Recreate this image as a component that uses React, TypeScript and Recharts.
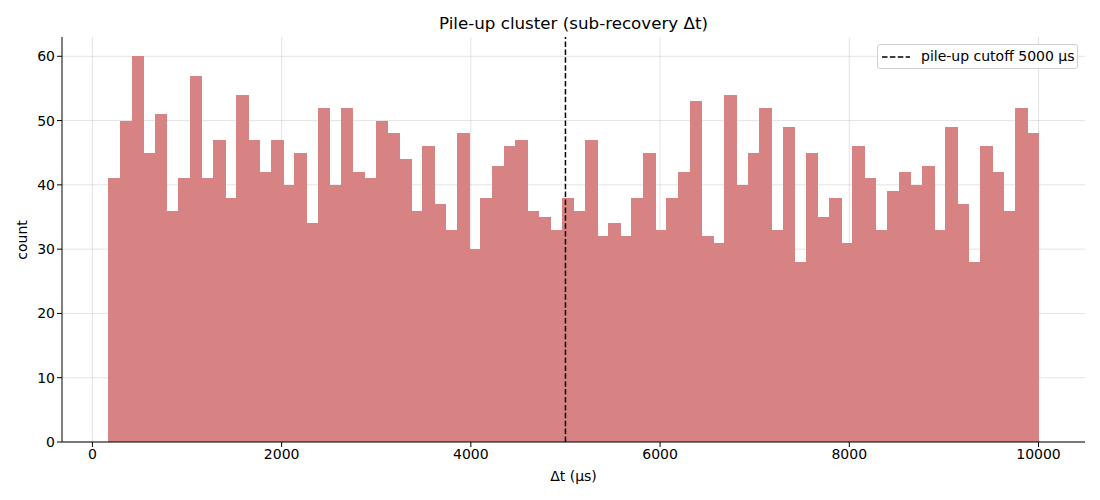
import React from 'react';
import { ComposedChart, Bar, XAxis, YAxis, CartesianGrid, ReferenceLine } from 'recharts';

const counts = [
  41, 50, 60, 45, 51, 36, 41, 57, 41, 47,
  38, 54, 47, 42, 47, 40, 45, 34, 52, 40,
  52, 42, 41, 50, 48, 44, 36, 46, 37, 33,
  48, 30, 38, 43, 46, 47, 36, 35, 33, 38,
  36, 47, 32, 34, 32, 38, 45, 33, 38, 42,
  53, 32, 31, 54, 40, 45, 52, 33, 49, 28,
  45, 35, 38, 31, 46, 41, 33, 39, 42, 40,
  43, 33, 49, 37, 28, 46, 42, 36, 52, 48,
];
const BIN_MIN = 172;
const BIN_MAX = 10000;
const BIN_WIDTH = (BIN_MAX - BIN_MIN) / counts.length;
const xTicks = [0, 2000, 4000, 6000, 8000, 10000];
const yTicks = [0, 10, 20, 30, 40, 50, 60];
const CUTOFF = 5000;
const TITLE = 'Pile-up cluster (sub-recovery Δt)';
const X_LABEL = 'Δt (μs)';
const Y_LABEL = 'count';
const LEGEND_LABEL = 'pile-up cutoff 5000 μs';

const data = counts.map((c, i) => ({ x: BIN_MIN + (i + 0.5) * BIN_WIDTH, count: c }));

const FONT = '"DejaVu Sans", sans-serif';
const BAR_COLOR = '#d88383';

const HistBar = (props: any) => {
  const { x, y, width, height, fill } = props;
  if (!height || height <= 0) return null;
  return <rect x={x - 0.3} y={y} width={width + 0.6} height={height} fill={fill} shapeRendering="crispEdges" />;
};

const LegendBox = () => (
  <div
    style={{
      position: 'absolute',
      left: 877,
      top: 44,
      width: 199,
      height: 23,
      border: '1px solid #d0d0d0',
      borderRadius: 3,
      background: 'rgba(255,255,255,0.8)',
      fontFamily: FONT,
      fontSize: 14,
      color: '#000',
    }}
  >
    <svg width={30} height={10} style={{ position: 'absolute', left: 4, top: 7 }}>
      <line x1={0} y1={5} x2={28} y2={5} stroke="#000" strokeWidth={1.5} strokeDasharray="5.5 2.4" />
    </svg>
    <span style={{ position: 'absolute', left: 43, top: 3, whiteSpace: 'nowrap' }}>{LEGEND_LABEL}</span>
  </div>
);

export default function App() {
  return (
    <div style={{ position: 'absolute', left: 0, top: 0, width: 1100, height: 500, background: '#fff' }}>
      <ComposedChart
        width={1100}
        height={500}
        data={data}
        margin={{ top: 37, right: 15, bottom: 0, left: 0 }}
        barCategoryGap={0}
        barGap={0}
      >
        <XAxis
          dataKey="x"
          type="number"
          domain={[-321.5, 10491.5]}
          ticks={xTicks}
          allowDataOverflow
          height={58}
          tickSize={5}
          tick={{ fontFamily: FONT, fontSize: 14, fill: '#000' }}
          stroke="#000"
          tickLine={{ stroke: '#000' }}
          axisLine={{ stroke: '#000' }}
        />
        <YAxis
          type="number"
          domain={[0, 63]}
          ticks={yTicks}
          allowDataOverflow
          width={62}
          tickSize={5}
          tick={{ fontFamily: FONT, fontSize: 14, fill: '#000' }}
          stroke="#000"
          tickLine={{ stroke: '#000' }}
          axisLine={{ stroke: '#000' }}
        />
        <Bar dataKey="count" fill={BAR_COLOR} isAnimationActive={false} shape={HistBar} />
        <CartesianGrid
          stroke="#b0b0b0"
          strokeOpacity={0.35}
          horizontalValues={yTicks}
          verticalValues={xTicks}
        />
        <ReferenceLine x={CUTOFF} stroke="#000" strokeWidth={1.5} strokeDasharray="5.5 2.4" />
      </ComposedChart>
      <div
        style={{
          position: 'absolute',
          left: 62,
          width: 1023,
          top: 13,
          textAlign: 'center',
          fontFamily: FONT,
          fontSize: 16.7,
          color: '#000',
        }}
      >
        {TITLE}
      </div>
      <div
        style={{
          position: 'absolute',
          left: 62,
          width: 1023,
          top: 468,
          textAlign: 'center',
          fontFamily: FONT,
          fontSize: 14,
          color: '#000',
        }}
      >
        {X_LABEL}
      </div>
      <div
        style={{
          position: 'absolute',
          left: 22,
          top: 240,
          transform: 'translate(-50%, -50%) rotate(-90deg)',
          fontFamily: FONT,
          fontSize: 14,
          color: '#000',
          whiteSpace: 'nowrap',
        }}
      >
        {Y_LABEL}
      </div>
      <LegendBox />
    </div>
  );
}
